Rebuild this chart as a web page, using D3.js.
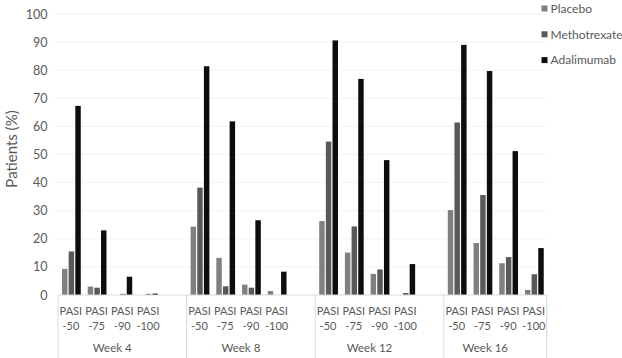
<!DOCTYPE html>
<html>
<head>
<meta charset="utf-8">
<script src="https://cdn.jsdelivr.net/npm/d3@7"></script>
<style>
  html, body { margin: 0; padding: 0; background: #fff; }
  svg { display: block; font-family: Lato, "Open Sans", sans-serif; }
</style>
</head>
<body>
<svg id="chart" width="622" height="358"></svg>
<script>
const weeks = ["Week 4", "Week 8", "Week 12", "Week 16"];
const pasiLevels = ["-50", "-75", "-90", "-100"];
const seriesNames = ["Placebo", "Methotrexate", "Adalimumab"];
const placebo =      [9.3, 3.0, 0, 0,     24.3, 13.2, 3.7, 1.4,  26.3, 15.1, 7.5, 0,    30.2, 18.5, 11.3, 1.8];
const methotrexate = [15.5, 2.6, 0.4, 0.4, 38.2, 3.1, 2.6, 0,    54.6, 24.4, 9.1, 0.7, 61.4, 35.6, 13.5, 7.4];
const adalimumab =   [67.3, 23.0, 6.5, 0.5, 81.4, 61.8, 26.6, 8.3, 90.6, 76.9, 48.0, 11.0, 89.0, 79.7, 51.2, 16.7];
const yTicks = [0, 10, 20, 30, 40, 50, 60, 70, 80, 90, 100];
const colors = ["#808080", "#595959", "#0d0d0d"];

const svg = d3.select("#chart");
const x0 = 58, x1 = 546.7, yBase = 295, yTop = 14;

// build slot list: 4 PASI levels per week, with an empty slot after each week except the last
const slots = [];
weeks.forEach((w, wi) => {
  pasiLevels.forEach((p, pi) => slots.push({ key: w + "|" + p, week: w, pasi: p, idx: wi * 4 + pi }));
  if (wi < weeks.length - 1) slots.push({ key: w + "|blank", week: w, blank: true });
});

const x = d3.scaleBand().domain(slots.map(s => s.key)).range([x0, x1]).padding(0);
const sw = x.bandwidth();
const xi = d3.scaleBand().domain(seriesNames).range([sw * 0.155, sw * 0.885]).paddingInner(0.18);
const y = d3.scaleLinear().domain([0, 100]).range([yBase, yTop]);

// gridlines
svg.append("g").selectAll("line").data(yTicks.filter(t => t > 0)).join("line")
  .attr("x1", x0 - 3).attr("x2", x1)
  .attr("y1", d => y(d)).attr("y2", d => y(d))
  .attr("stroke", "#f2f2f2").attr("stroke-width", 1);

// y tick labels
svg.append("g").selectAll("text").data(yTicks).join("text")
  .attr("x", 47.5).attr("y", d => y(d)).attr("dy", "0.36em")
  .attr("text-anchor", "end").attr("font-size", 12.5).attr("fill", "#595959")
  .text(d => d);

// y axis title
svg.append("text")
  .attr("transform", "translate(17,149) rotate(-90)")
  .attr("text-anchor", "middle").attr("font-size", 15).attr("fill", "#595959")
  .text("Patients (%)");

// bars
const seriesData = [placebo, methotrexate, adalimumab];
const barSlots = slots.filter(s => !s.blank);
seriesNames.forEach((name, si) => {
  svg.append("g").selectAll("rect").data(barSlots).join("rect")
    .attr("x", s => x(s.key) + xi(name))
    .attr("width", xi.bandwidth())
    .attr("y", s => y(seriesData[si][s.idx]))
    .attr("height", s => yBase - y(seriesData[si][s.idx]))
    .attr("fill", colors[si]);
});

// x axis line
svg.append("line").attr("x1", x0).attr("x2", x1).attr("y1", yBase).attr("y2", yBase)
  .attr("stroke", "#d9d9d9").attr("stroke-width", 1);

// group separators
const bounds = weeks.map(w => x(w + "|-50"));
bounds.push(x1);
svg.append("g").selectAll("line").data(bounds).join("line")
  .attr("x1", d => d).attr("x2", d => d).attr("y1", yBase).attr("y2", 358)
  .attr("stroke", "#d9d9d9").attr("stroke-width", 1);

// category labels
const cat = svg.append("g").attr("font-size", 11).attr("fill", "#595959").attr("text-anchor", "middle");
cat.selectAll("text.p1").data(barSlots).join("text").attr("class", "p1")
  .attr("x", s => x(s.key) + sw / 2).attr("y", 314.5).text("PASI");
cat.selectAll("text.p2").data(barSlots).join("text").attr("class", "p2")
  .attr("x", s => x(s.key) + sw / 2).attr("y", 330.2).text(s => s.pasi);

// week labels
svg.append("g").selectAll("text").data(weeks).join("text")
  .attr("x", (w, i) => (bounds[i] + bounds[i + 1]) / 2 - 10)
  .attr("y", 352).attr("text-anchor", "middle").attr("font-size", 11.5).attr("fill", "#595959")
  .text(w => w);

// legend
const lg = svg.append("g").selectAll("g").data(seriesNames).join("g")
  .attr("transform", (d, i) => `translate(541.5,${8.5 + i * 25.8})`);
lg.append("rect").attr("x", 0).attr("y", -3).attr("width", 6).attr("height", 6)
  .attr("fill", (d, i) => colors[i]);
lg.append("text").attr("x", 9).attr("y", 0).attr("dy", "0.36em")
  .attr("font-size", 12).attr("fill", "#595959").text(d => d);
</script>
</body>
</html>
